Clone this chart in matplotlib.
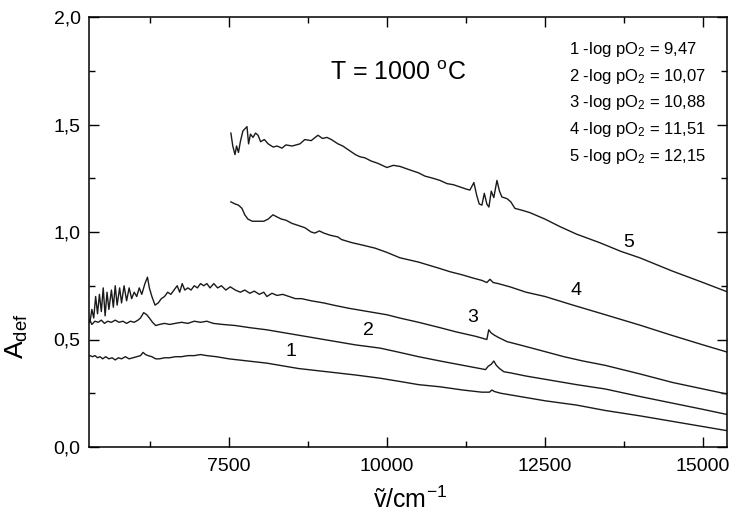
from matplotlib import pyplot as plt
from matplotlib.ticker import MultipleLocator

plt.rcParams['font.family'] = ['Liberation Sans', 'DejaVu Sans']
plt.rcParams['mathtext.fontset'] = 'custom'
plt.rcParams['mathtext.rm'] = 'Liberation Sans'
plt.rcParams['mathtext.it'] = 'Liberation Sans:italic'
plt.rcParams['mathtext.bf'] = 'Liberation Sans:bold'

# curve 1: -log pO2 = 9,47
x1 = [5300, 5340, 5380, 5420, 5460, 5500, 5550, 5600, 5650, 5700, 5750, 5800, 5860, 5920, 5980,
      6040, 6100, 6140, 6180, 6220, 6280, 6340, 6400, 6480, 6560, 6650, 6750, 6850, 6950, 7050,
      7150, 7300, 7500, 7800, 8100, 8300, 8600, 8900, 9200, 9500, 9890, 10200, 10500, 10840,
      11200, 11500, 11620, 11660, 11700, 11800, 12100, 12500, 13000, 13450, 14000, 14500, 15000, 15400]
y1 = [0.425, 0.42, 0.425, 0.415, 0.42, 0.41, 0.42, 0.41, 0.415, 0.405, 0.415, 0.41, 0.42, 0.41, 0.415,
      0.42, 0.425, 0.44, 0.43, 0.425, 0.42, 0.41, 0.41, 0.415, 0.415, 0.42, 0.42, 0.425, 0.425, 0.43,
      0.425, 0.42, 0.41, 0.40, 0.39, 0.38, 0.365, 0.355, 0.345, 0.335, 0.32, 0.305, 0.29, 0.28,
      0.265, 0.255, 0.255, 0.265, 0.258, 0.25, 0.235, 0.215, 0.195, 0.17, 0.145, 0.12, 0.095, 0.075]

# curve 2: -log pO2 = 10,07
x2 = [5300, 5330, 5380, 5430, 5480, 5530, 5580, 5640, 5700, 5760, 5820, 5880, 5940, 6000, 6060,
      6100, 6150, 6200, 6240, 6290, 6340, 6400, 6480, 6560, 6650, 6750, 6850, 6950, 7050, 7150,
      7250, 7400, 7600, 7830, 8100, 8300, 8600, 8900, 9200, 9500, 9890, 10200, 10500, 10840,
      11200, 11560, 11600, 11650, 11690, 11730, 11780, 11850, 11950, 12200, 12600, 13000, 13450,
      14000, 14500, 15000, 15400]
y2 = [0.59, 0.57, 0.585, 0.58, 0.59, 0.575, 0.585, 0.58, 0.59, 0.58, 0.585, 0.575, 0.585, 0.58, 0.59,
      0.60, 0.625, 0.615, 0.60, 0.58, 0.565, 0.57, 0.575, 0.57, 0.575, 0.58, 0.575, 0.585, 0.58, 0.585,
      0.575, 0.57, 0.565, 0.555, 0.545, 0.535, 0.52, 0.505, 0.49, 0.475, 0.46, 0.44, 0.42, 0.40,
      0.38, 0.36, 0.375, 0.385, 0.40, 0.38, 0.365, 0.35, 0.345, 0.33, 0.31, 0.29, 0.27,
      0.235, 0.205, 0.175, 0.15]

# curve 3: -log pO2 = 10,88
x3 = [5300, 5330, 5360, 5390, 5420, 5450, 5480, 5510, 5540, 5570, 5600, 5640, 5670, 5700, 5730,
      5770, 5800, 5840, 5880, 5920, 5960, 6000, 6040, 6080, 6120, 6170, 6210, 6240, 6280, 6330,
      6380, 6430, 6480, 6530, 6580, 6630, 6680, 6720, 6760, 6800, 6850, 6900, 6950, 7000, 7050,
      7100, 7150, 7200, 7260, 7320, 7380, 7450, 7520, 7600, 7680, 7750, 7830, 7900, 7980, 8050,
      8100, 8180, 8260, 8350, 8450, 8550, 8650, 8800, 9000, 9150, 9400, 9700, 10000, 10200,
      10500, 10840, 11100, 11400, 11580, 11610, 11650, 11700, 11760, 11900, 12100, 12420, 12800,
      13100, 13450, 14000, 14520, 15000, 15400]
y3 = [0.58, 0.64, 0.60, 0.70, 0.62, 0.71, 0.63, 0.74, 0.61, 0.72, 0.64, 0.73, 0.65, 0.75, 0.66,
      0.74, 0.67, 0.75, 0.68, 0.74, 0.69, 0.72, 0.70, 0.74, 0.71, 0.76, 0.79, 0.74, 0.70, 0.66,
      0.67, 0.69, 0.70, 0.72, 0.71, 0.73, 0.75, 0.72, 0.76, 0.73, 0.74, 0.73, 0.75, 0.74, 0.76,
      0.75, 0.76, 0.74, 0.76, 0.74, 0.75, 0.73, 0.745, 0.73, 0.72, 0.73, 0.715, 0.725, 0.71, 0.72,
      0.70, 0.715, 0.705, 0.71, 0.70, 0.69, 0.69, 0.68, 0.67, 0.66, 0.645, 0.63, 0.615, 0.60,
      0.58, 0.555, 0.535, 0.515, 0.50, 0.545, 0.53, 0.52, 0.51, 0.49, 0.475, 0.45, 0.42,
      0.40, 0.38, 0.34, 0.30, 0.27, 0.245]

# curve 4: -log pO2 = 11,51
x4 = [7530, 7600, 7650, 7705, 7750, 7800, 7870, 7958, 8050, 8120, 8196, 8260, 8330, 8400, 8497,
      8600, 8700, 8800, 8860, 8930, 9000, 9100, 9224, 9280, 9335, 9450, 9600, 9810, 10000, 10205,
      10500, 10838, 11000, 11200, 11360, 11500, 11580, 11630, 11680, 11760, 11945, 12200, 12500,
      12942, 13400, 14000, 14500, 15000, 15400]
y4 = [1.14, 1.13, 1.125, 1.11, 1.08, 1.06, 1.05, 1.05, 1.05, 1.06, 1.08, 1.07, 1.06, 1.055, 1.04,
      1.03, 1.02, 1.0, 0.995, 1.005, 0.995, 0.985, 0.977, 0.965, 0.96, 0.95, 0.94, 0.925, 0.905, 0.88,
      0.86, 0.83, 0.815, 0.80, 0.786, 0.775, 0.765, 0.78, 0.765, 0.76, 0.745, 0.72, 0.70,
      0.66, 0.62, 0.567, 0.52, 0.475, 0.44]

# curve 5: -log pO2 = 12,15
x5 = [7530, 7560, 7595, 7620, 7650, 7680, 7720, 7785, 7810, 7840, 7880, 7920, 7960, 8000, 8060,
      8120, 8200, 8260, 8338, 8400, 8500, 8623, 8700, 8800, 8908, 8980, 9050, 9120, 9224, 9300,
      9400, 9500, 9572, 9650, 9750, 9850, 9999, 10100, 10205, 10350, 10500, 10600, 10727, 10838,
      10950, 11050, 11150, 11250, 11312, 11375, 11420, 11460, 11502, 11540, 11580, 11613, 11650,
      11690, 11740, 11780, 11818, 11900, 11960, 12024, 12150, 12262, 12500, 12737, 13000, 13369,
      13700, 14000, 14500, 15000, 15400]
y5 = [1.46, 1.40, 1.36, 1.40, 1.37, 1.42, 1.47, 1.49, 1.41, 1.455, 1.44, 1.46, 1.45, 1.42, 1.43,
      1.41, 1.395, 1.40, 1.39, 1.405, 1.40, 1.41, 1.43, 1.425, 1.45, 1.435, 1.44, 1.43, 1.41, 1.40,
      1.38, 1.36, 1.35, 1.345, 1.33, 1.32, 1.30, 1.31, 1.305, 1.29, 1.275, 1.26, 1.25, 1.24,
      1.225, 1.22, 1.21, 1.20, 1.195, 1.23, 1.17, 1.13, 1.125, 1.18, 1.13, 1.116, 1.19,
      1.16, 1.24, 1.19, 1.163, 1.155, 1.14, 1.11, 1.10, 1.09, 1.06, 1.025, 0.99, 0.95,
      0.91, 0.88, 0.82, 0.765, 0.72]

curve_names = ['1', '2', '3', '4', '5']
label_x = [8481, 9699, 11360, 12989, 13828]
label_y = [0.442, 0.540, 0.60, 0.726, 0.953]
legend_lines = ['1 -log pO$_2$ = 9,47', '2 -log pO$_2$ = 10,07', '3 -log pO$_2$ = 10,88',
                '4 -log pO$_2$ = 11,51', '5 -log pO$_2$ = 12,15']

xticks = [7500, 10000, 12500, 15000]
xtick_labels = ['7500', '10000', '12500', '15000']
yticks = [0.0, 0.5, 1.0, 1.5, 2.0]
ytick_labels = ['0,0', '0,5', '1,0', '1,5', '2,0']

fig = plt.figure(figsize=(7.35, 5.2), dpi=100)
ax = fig.add_axes([89 / 735, 1 - 447 / 520, 638 / 735, 430 / 520])

for xs, ys in [(x1, y1), (x2, y2), (x3, y3), (x4, y4), (x5, y5)]:
    ax.plot(xs, ys, color='#1a1a1a', linewidth=1.0)

for name, lx, ly in zip(curve_names, label_x, label_y):
    ax.text(lx, ly, name, fontsize=14, ha='center', va='center')

for i, line in enumerate(legend_lines):
    ax.text(12879, 1.851 - i * 0.1255, line, fontsize=12, ha='left', va='center')

ax.text(10173, 1.74, 'T = 1000 $^{\\mathrm{o}}$C', fontsize=18, ha='center', va='center')

ax.set_xlim(5285, 15380)
ax.set_ylim(0, 2.0)
ax.set_xticks(xticks)
ax.set_xticklabels(xtick_labels)
ax.set_yticks(yticks)
ax.set_yticklabels(ytick_labels)
ax.xaxis.set_minor_locator(MultipleLocator(1250))
ax.yaxis.set_minor_locator(MultipleLocator(0.25))
ax.tick_params(which='both', direction='in', top=True, right=True, width=1.0)
ax.tick_params(which='major', length=7)
ax.tick_params(which='minor', length=4)
ax.tick_params(axis='x', labelsize=14, pad=8)
ax.tick_params(axis='y', labelsize=14, pad=6)
for sp in ax.spines.values():
    sp.set_linewidth(1.1)

fig.text(17 / 735, 1 - 336 / 520, 'A$_{\\mathrm{def}}$', fontsize=19, rotation=90,
         ha='center', va='center')
fig.text(410 / 735, 1 - 500 / 520, 'ṽ/cm$^{\\mathrm{-1}}$', fontsize=18, ha='center', va='center')

fig.savefig('out.png', dpi=100)
